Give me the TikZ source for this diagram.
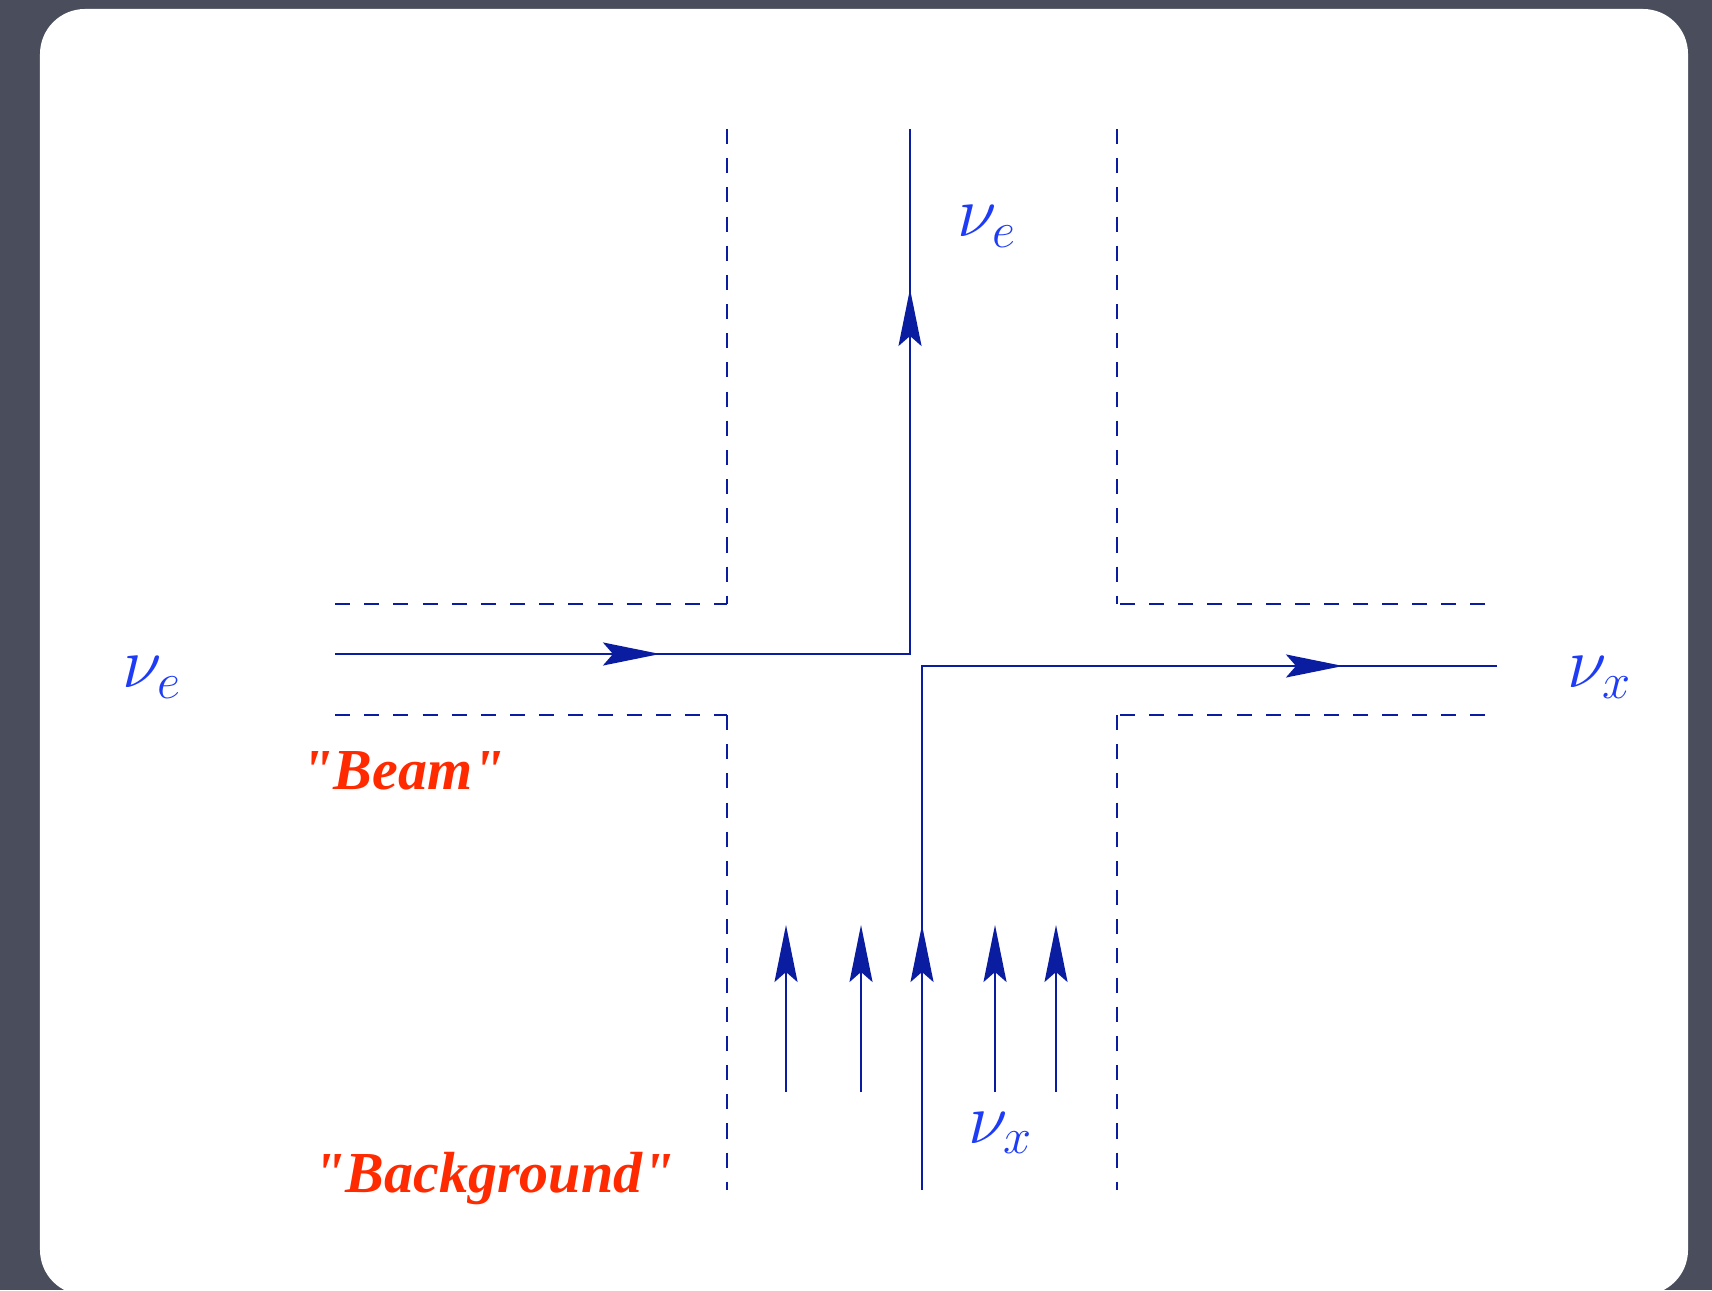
\RequirePackage{fix-cm}
\documentclass[tikz,border=0pt]{standalone}
\usepackage{fontspec}
\newfontfamily\tagfont{Liberation Serif}
\usetikzlibrary{arrows.meta,positioning}
\definecolor{nuslate}{HTML}{4A4E5C}
\definecolor{nuline}{HTML}{0A1CA0}
\definecolor{nulabel}{HTML}{1E3CF5}
\definecolor{nured}{HTML}{FF2A00}
\tikzset{
  wall/.style={nuline, line width=0.6pt, dash pattern=on 4.3pt off 4pt},
  flow/.style={nuline, line width=0.6pt},
  arr/.style={-{Stealth[length=5.7mm, width=2.3mm, inset=1mm]}, nuline, line width=0.6pt},
  nulbl/.style={text=nulabel, inner sep=0pt, anchor=base west, font=\fontsize{20.5}{24}\selectfont},
  tag/.style={text=nured, inner sep=0pt, anchor=base west, font=\tagfont\bfseries\itshape\fontsize{16.5}{20}\selectfont},
}

\begin{document}
\begin{tikzpicture}
    \useasboundingbox[fill=nuslate] (0,0) rectangle (17.12,12.90);
    \fill[white, rounded corners=4.5mm] (0.40,-0.05) rectangle (16.88,12.81);
    \coordinate (ulT) at (7.27,11.61); \coordinate (ulC) at (7.27,6.86); \coordinate (ulE) at (3.35,6.86);
    \coordinate (llE) at (3.35,5.75); \coordinate (llC) at (7.27,5.75); \coordinate (llB) at (7.27,1.00);
    \coordinate (urT) at (11.17,11.61); \coordinate (urC) at (11.17,6.86); \coordinate (urE) at (14.85,6.86);
    \coordinate (lrE) at (14.85,5.75); \coordinate (lrC) at (11.17,5.75); \coordinate (lrB) at (11.17,1.00);
    \draw[wall] (ulT) -- (ulC); \draw[wall] (ulE) -- (ulC);
    \draw[wall] (llC) -- (llB); \draw[wall] (llE) -- (llC);
    \draw[wall] (urT) -- (urC); \draw[wall] (urE) -- (urC);
    \draw[wall] (lrC) -- (lrB); \draw[wall] (lrE) -- (lrC);
    \coordinate (beamIn) at (3.35,6.36); \coordinate (beamTip) at (6.60,6.36);
    \coordinate (beamTurn) at (9.10,6.36); \coordinate (beamUp) at (9.10,10.01); \coordinate (beamOut) at (9.10,11.61);
    \coordinate (bgIn) at (9.22,1.00); \coordinate (bgTurn) at (9.22,6.24);
    \coordinate (bgTip) at (13.43,6.24); \coordinate (bgOut) at (14.97,6.24);
    \draw[flow] (beamIn) -- (beamTurn) -- (beamOut);
    \draw[arr] (beamIn) -- (beamTip); \draw[arr] (beamTurn) -- (beamUp);
    \draw[flow] (bgIn) -- (bgTurn) -- (bgOut);
    \draw[arr] (bgTurn) -- (bgTip);
    \foreach \x [count=\i] in {7.86,8.61,9.22,9.95,10.56} {
      \coordinate (bg\i a) at (\x,1.98); \coordinate (bg\i b) at (\x,3.65);
      \draw[arr] (bg\i a) -- (bg\i b);
    }
    \node[nulbl] (nueIn) at (1.22,6.02) {$\nu_e$};
    \node[nulbl] (nueOut) at (9.57,10.53) {$\nu_e$};
    \node[nulbl] (nuxOut) at (15.67,6.02) {$\nu_x$};
    \node[nulbl] (nuxIn) at (9.68,1.47) {$\nu_x$};
    \node[tag] (beam) at (3.01,5.00) {"Beam"};
    \node[tag] (bkg) at (3.13,0.98) {"Background"};
  \end{tikzpicture}
\end{document}
